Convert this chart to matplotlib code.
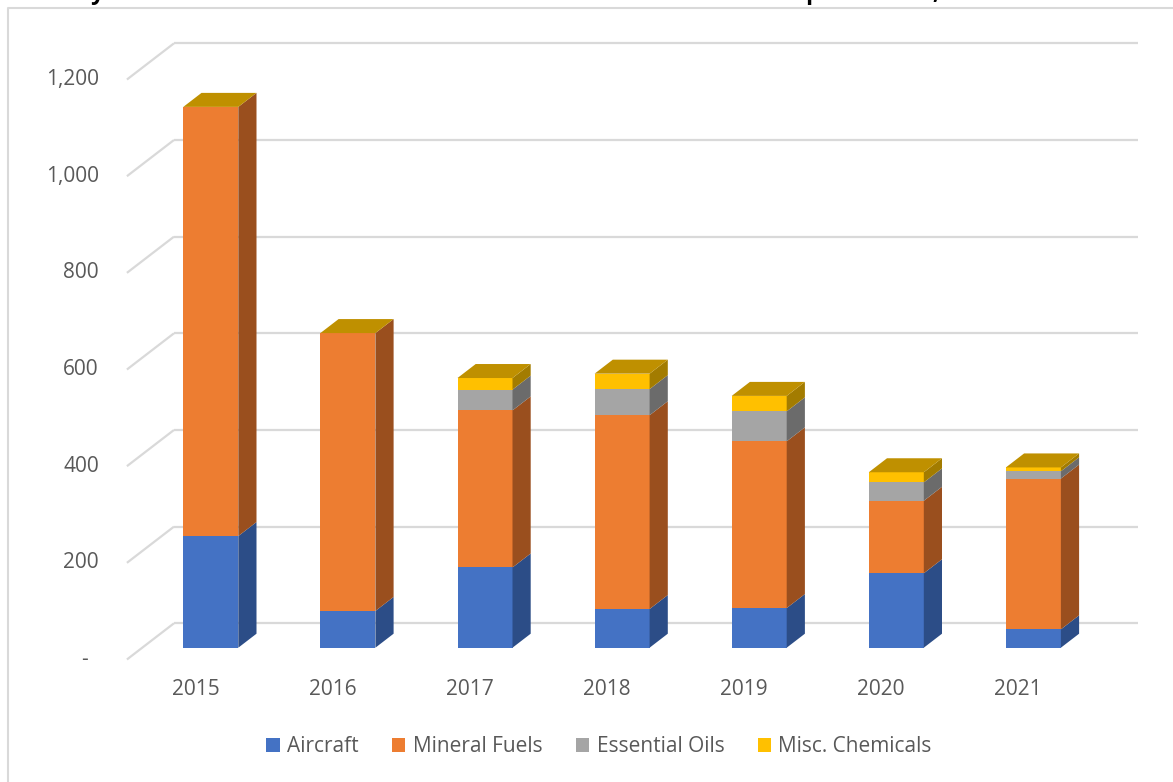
import matplotlib.pyplot as plt
from matplotlib.patches import Polygon, Patch
from matplotlib.lines import Line2D

years = ['2015', '2016', '2017', '2018', '2019', '2020', '2021']
series = ['Aircraft', 'Mineral Fuels', 'Essential Oils', 'Misc. Chemicals']
aircraft = [231, 76, 166, 80, 82, 154, 38]
mineral_fuels = [888, 575, 325, 401, 345, 150, 312]
essential_oils = [0, 0, 43, 54, 62, 38, 15]
misc_chemicals = [0, 0, 24, 32, 32, 21, 8]
y_ticks = [0, 200, 400, 600, 800, 1000, 1200]
y_tick_labels = ['-', '200', '400', '600', '800', '1,000', '1,200']
title = 'Key Items in the Total Trade Mix from Other Member States: Import Totals, 2015-2021'

front_colors = ['#4472C4', '#ED7D31', '#A5A5A5', '#FFC000']
side_colors = ['#2C4D87', '#9A4F1E', '#6B6B6B', '#A37C00']
top_color = '#BF9000'
grid_color = '#D9D9D9'
text_color = '#595959'

plt.rcParams['font.family'] = ['Open Sans', 'DejaVu Sans']

W, H = 1173, 782
fig = plt.figure(figsize=(W / 100, H / 100), dpi=100)
ax = fig.add_axes([0, 0, 1, 1])

# linear scales calibrated so the bar front plane lands in the right place
x0_px, step_px = 210.8, 137.1
y0_px, unit_px = 647.7, 0.4833
ax.set_xlim(-x0_px / step_px, (W - x0_px) / step_px)
ax.set_ylim((y0_px - H) / unit_px, y0_px / unit_px)
ax.axis('off')


def depth(d):
    # oblique 3-D offset (in data units) for d pixels of depth
    return d * 1.3 / step_px, d / unit_px


# back wall at +24 px depth, front edge of the floor at -12 px
bx, by = depth(24.4)
fx, fy = depth(-11.8)
lo, hi = -0.5, len(years) - 0.47

for v, lab in zip(y_ticks, y_tick_labels):
    ax.plot([lo + bx, hi + bx], [v + by, v + by], color=grid_color, lw=1.6,
            zorder=1, solid_capstyle='butt')
    ax.plot([lo + fx, lo + bx], [v + fy, v + by], color=grid_color, lw=1.6,
            zorder=1, solid_capstyle='butt')
    off = -39 if lab == '-' else -28
    ax.annotate(lab, (lo + fx, v + fy), xytext=(off, 0), textcoords='offset pixels',
                ha='right', va='center', fontsize=15, color=text_color)

for i, yr in enumerate(years):
    ax.annotate(yr, (i + fx, fy), xytext=(0, -30), textcoords='offset pixels',
                ha='center', va='center', fontsize=15, color=text_color)

# stacked 3-D columns: front faces with ax.bar, sides and tops as polygons
bw = 55 / step_px
dx, dy = depth(14)
stack = [aircraft, mineral_fuels, essential_oils, misc_chemicals]
bottoms = [0] * len(years)
for k, vals in enumerate(stack):
    ax.bar(range(len(years)), vals, width=bw, bottom=bottoms,
           color=front_colors[k], linewidth=0, zorder=3)
    for i, (b, h) in enumerate(zip(bottoms, vals)):
        if h <= 0:
            continue
        r = i + bw / 2
        ax.add_patch(Polygon([(r, b), (r + dx, b + dy), (r + dx, b + h + dy), (r, b + h)],
                             closed=True, facecolor=side_colors[k], lw=0, zorder=3))
    bottoms = [b + h for b, h in zip(bottoms, vals)]

for i, t in enumerate(bottoms):
    l, r = i - bw / 2, i + bw / 2
    ax.add_patch(Polygon([(l, t), (r, t), (r + dx, t + dy), (l + dx, t + dy)],
                         closed=True, facecolor=top_color, lw=0, zorder=4))

handles = [Patch(facecolor=c, edgecolor='none') for c in front_colors]
fig.legend(handles, series, loc='center', bbox_to_anchor=(599 / W, 1 - 747 / H),
           ncol=4, frameon=False, fontsize=15, labelcolor=text_color,
           handlelength=0.65, handleheight=0.65, handletextpad=0.35,
           columnspacing=1.6)

# chart area border
fig.add_artist(Line2D([8 / W, 8 / W, 1.0], [0, 1 - 8 / H, 1 - 8 / H],
                      transform=fig.transFigure, color=grid_color, lw=1.5))

# title sits mostly above the top edge
fig.text(62 / W, 1 + 1 / H, title, ha='left', va='baseline',
         fontsize=17, fontweight='bold', color='black')

fig.savefig('out.png', dpi=100)
